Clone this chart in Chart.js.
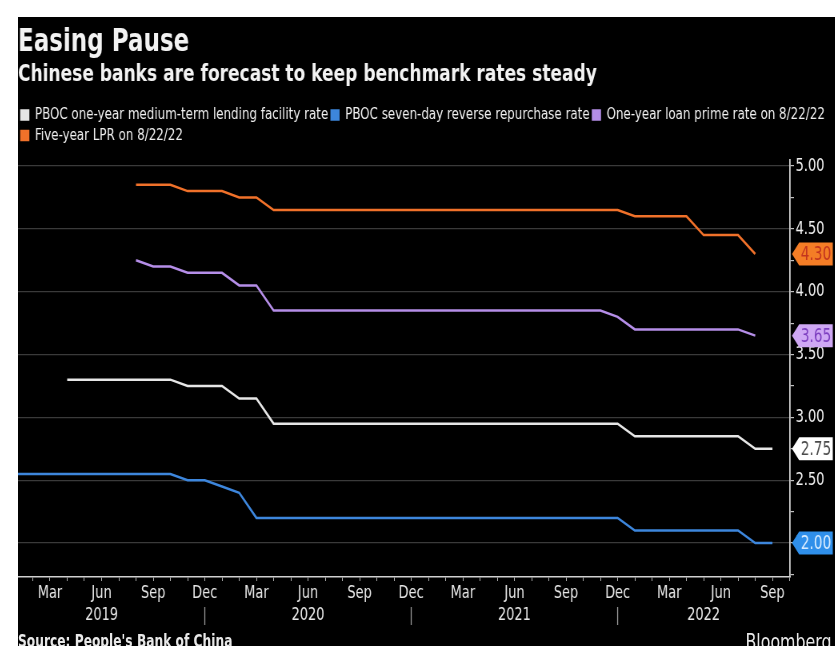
<!DOCTYPE html>
<html>
<head>
<meta charset="utf-8">
<script src="https://cdn.jsdelivr.net/npm/chart.js@4.4.1/dist/chart.umd.min.js"></script>
<style>
    html, body { margin: 0; padding: 0; background: #fff; overflow: hidden; }
    /* the Bloomberg graphic is a condensed font squeezed sideways, so the whole box is squeezed */
    #box { position: absolute; left: 18px; top: 17px; width: 1021px; height: 629px; background: #000; overflow: hidden;
           transform: scaleX(0.8); transform-origin: 0 0; }
    #box canvas { position: absolute; left: 0; top: 0; }
    .foot { position: absolute; font-family: 'DejaVu Sans Condensed', 'DejaVu Sans', sans-serif; color: #e8e8e8; white-space: nowrap; }
</style>
</head>
<body>
<div id="box">
    <canvas id="chart" width="1021" height="629" style="width:1021px;height:629px"></canvas>
    <div class="foot" style="left:0; top:614px; font-size:17px; font-weight:bold;">Source: People's Bank of China</div>
    <div class="foot" style="right:4px; top:612px; font-size:22px;">Bloomberg</div>
</div>

<script>
// Month starts, position 0 = Jan 2019
const periods = [
    '2019-01', '2019-02', '2019-03', '2019-04', '2019-05', '2019-06', '2019-07', '2019-08', '2019-09', '2019-10', '2019-11', '2019-12',
    '2020-01', '2020-02', '2020-03', '2020-04', '2020-05', '2020-06', '2020-07', '2020-08', '2020-09', '2020-10', '2020-11', '2020-12',
    '2021-01', '2021-02', '2021-03', '2021-04', '2021-05', '2021-06', '2021-07', '2021-08', '2021-09', '2021-10', '2021-11', '2021-12',
    '2022-01', '2022-02', '2022-03', '2022-04', '2022-05', '2022-06', '2022-07', '2022-08', '2022-09'
];

// PBOC one-year MLF rate
const mlfRate = [
    null, null, null, 3.30, 3.30, 3.30, 3.30, 3.30, 3.30, 3.30, 3.25, 3.25,
    3.25, 3.15, 3.15, 2.95, 2.95, 2.95, 2.95, 2.95, 2.95, 2.95, 2.95, 2.95,
    2.95, 2.95, 2.95, 2.95, 2.95, 2.95, 2.95, 2.95, 2.95, 2.95, 2.95, 2.95,
    2.85, 2.85, 2.85, 2.85, 2.85, 2.85, 2.85, 2.75, 2.75
];

// PBOC seven-day reverse repo rate
const repoRate = [
    2.55, 2.55, 2.55, 2.55, 2.55, 2.55, 2.55, 2.55, 2.55, 2.55, 2.50, 2.50,
    2.45, 2.40, 2.20, 2.20, 2.20, 2.20, 2.20, 2.20, 2.20, 2.20, 2.20, 2.20,
    2.20, 2.20, 2.20, 2.20, 2.20, 2.20, 2.20, 2.20, 2.20, 2.20, 2.20, 2.20,
    2.10, 2.10, 2.10, 2.10, 2.10, 2.10, 2.10, 2.00, 2.00
];

// One-year loan prime rate
const lpr1y = [
    null, null, null, null, null, null, null, 4.25, 4.20, 4.20, 4.15, 4.15,
    4.15, 4.05, 4.05, 3.85, 3.85, 3.85, 3.85, 3.85, 3.85, 3.85, 3.85, 3.85,
    3.85, 3.85, 3.85, 3.85, 3.85, 3.85, 3.85, 3.85, 3.85, 3.85, 3.85, 3.80,
    3.70, 3.70, 3.70, 3.70, 3.70, 3.70, 3.70, 3.65, null
];

// Five-year loan prime rate
const lpr5y = [
    null, null, null, null, null, null, null, 4.85, 4.85, 4.85, 4.80, 4.80,
    4.80, 4.75, 4.75, 4.65, 4.65, 4.65, 4.65, 4.65, 4.65, 4.65, 4.65, 4.65,
    4.65, 4.65, 4.65, 4.65, 4.65, 4.65, 4.65, 4.65, 4.65, 4.65, 4.65, 4.65,
    4.60, 4.60, 4.60, 4.60, 4.45, 4.45, 4.45, 4.30, null
];

const monthNames = ['Jan', 'Feb', 'Mar', 'Apr', 'May', 'Jun', 'Jul', 'Aug', 'Sep', 'Oct', 'Nov', 'Dec'];
const shownMonths = ['Mar', 'Jun', 'Sep', 'Dec'];
const yearLabels = { '2019-06': '2019', '2020-06': '2020', '2021-06': '2021', '2022-05': '2022' };
const yTickLabels = [2.00, 2.50, 3.00, 3.50, 4.00, 4.50, 5.00];

const font = "'DejaVu Sans Condensed', 'DejaVu Sans', sans-serif";

const series = [
    { label: 'PBOC one-year medium-term lending facility rate', values: mlfRate, color: '#e6e6e6', tagBg: '#ffffff', tagText: '#4a4a4a' },
    { label: 'PBOC seven-day reverse repurchase rate', values: repoRate, color: '#3d86dc', tagBg: '#2f8fea', tagText: '#d8ecff' },
    { label: 'One-year loan prime rate on 8/22/22', values: lpr1y, color: '#b58ee8', tagBg: '#cfa8f4', tagText: '#7d3fc0' },
    { label: 'Five-year LPR on 8/22/22', values: lpr5y, color: '#f0712a', tagBg: '#f47d26', tagText: '#c2341f' },
];

// last value tags on the right axis
const tagPlugin = {
    id: 'tags',
    afterDraw(chart) {
        const { ctx, chartArea, scales: { y } } = chart;
        chart.data.datasets.forEach(ds => {
            const last = [...ds.data].reverse().find(p => p.y !== null);
            const py = y.getPixelForValue(last.y);
            const x0 = chartArea.right + 2.5, w = 51, tip = 9, h = 23;
            ctx.save();
            ctx.fillStyle = ds.tagBg;
            ctx.beginPath();
            ctx.moveTo(x0, py);
            ctx.lineTo(x0 + tip, py - h / 2);
            ctx.lineTo(x0 + w, py - h / 2);
            ctx.lineTo(x0 + w, py + h / 2);
            ctx.lineTo(x0 + tip, py + h / 2);
            ctx.closePath();
            ctx.fill();
            ctx.fillStyle = ds.tagText;
            ctx.font = '19px ' + font;
            ctx.textAlign = 'center';
            ctx.textBaseline = 'middle';
            ctx.fillText(last.y.toFixed(2), x0 + tip + (w - tip) / 2, py + 1);
            ctx.restore();
        });
    }
};

// small year separators under the December labels
const yearSepPlugin = {
    id: 'yearSep',
    afterDraw(chart) {
        const { ctx, chartArea, scales: { x } } = chart;
        ctx.save();
        ctx.strokeStyle = '#9a9a9a';
        ctx.lineWidth = 1.3;
        periods.forEach((p, i) => {
            if (p.endsWith('-12')) {
                const px = x.getPixelForValue(i);
                ctx.beginPath();
                ctx.moveTo(px, chartArea.bottom + 30);
                ctx.lineTo(px, chartArea.bottom + 48);
                ctx.stroke();
            }
        });
        ctx.restore();
    }
};

// extra room between legend and plot
const legendGap = {
    id: 'legendGap',
    beforeInit(chart) {
        const fit = chart.legend.fit;
        chart.legend.fit = function () {
            fit.bind(chart.legend)();
            this.height += 6;
        };
    }
};

new Chart(document.getElementById('chart'), {
    type: 'line',
    data: {
        datasets: series.map(s => ({
            label: s.label,
            data: periods.map((p, i) => ({ x: i, y: s.values[i] })),
            borderColor: s.color,
            backgroundColor: s.color,
            borderWidth: 2.5,
            pointRadius: 0,
            tension: 0,
            spanGaps: false,
            tagBg: s.tagBg,
            tagText: s.tagText,
        })),
    },
    options: {
        responsive: false,
        animation: false,
        devicePixelRatio: 1,
        layout: { padding: { top: 0, bottom: 22, left: 0, right: 0 } },
        plugins: {
            title: {
                display: true, text: 'Easing Pause', align: 'start', color: '#f2f2f2',
                font: { family: font, size: 32, weight: 'bold', lineHeight: 1 },
                padding: { top: 10, bottom: 0 },
            },
            subtitle: {
                display: true, text: 'Chinese banks are forecast to keep benchmark rates steady', align: 'start', color: '#f2f2f2',
                font: { family: font, size: 23.7, weight: 'bold', lineHeight: 1 },
                padding: { top: 4, bottom: 16 },
            },
            legend: {
                align: 'start',
                labels: {
                    color: '#f0f0f0', boxWidth: 9, boxHeight: 9, padding: 4,
                    font: { family: font, size: 16.5 },
                },
            },
            tooltip: { enabled: false },
        },
        scales: {
            x: {
                type: 'linear', min: 0.14, max: 45.02,
                border: { color: '#d0d0d0', width: 1.5 },
                grid: { drawOnChartArea: false, drawTicks: true, tickLength: 4, tickColor: '#b0b0b0' },
                ticks: {
                    stepSize: 1, includeBounds: false, autoSkip: false, maxRotation: 0, padding: 2,
                    color: '#e6e6e6', font: { family: font, size: 18, lineHeight: 1.2 },
                    callback: v => {
                        const p = periods[Math.round(v)];
                        if (!p) return '';
                        const m = monthNames[Number(p.slice(5)) - 1];
                        const top = shownMonths.includes(m) ? m : '';
                        return yearLabels[p] ? [top, yearLabels[p]] : top;
                    },
                },
                afterFit: s => { s.height = 47; },
            },
            y: {
                position: 'right', min: 1.73, max: 5.05,
                border: { color: '#d0d0d0', width: 1.8 },
                grid: {
                    color: c => (yTickLabels.includes(Math.round(c.tick.value * 100) / 100) ? '#3a3a3a' : 'transparent'),
                    tickColor: '#c0c0c0', tickLength: 5, lineWidth: 1.2,
                },
                ticks: {
                    stepSize: 0.25, includeBounds: false, padding: 2,
                    color: '#f0f0f0', font: { family: font, size: 18 },
                    callback: v => (yTickLabels.includes(Math.round(v * 100) / 100) ? v.toFixed(2) : ''),
                },
                afterFit: s => { s.width = 56; },
            },
        },
    },
    plugins: [legendGap, tagPlugin, yearSepPlugin],
});
</script>
</body>
</html>
